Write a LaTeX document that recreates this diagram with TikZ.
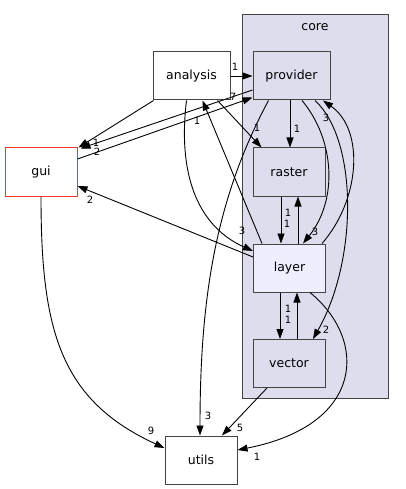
\documentclass[tikz,border=0pt]{standalone}
\usepackage{fontspec}
\setmainfont{DejaVu Sans}
\usetikzlibrary{arrows.meta,calc}
\definecolor{clusterfill}{HTML}{DDDDEE}
\definecolor{curfill}{HTML}{EEEEFF}
\definecolor{boxline}{HTML}{444444}
\definecolor{guired}{HTML}{FF3333}
\tikzset{
  dirbox/.style={draw=boxline, line width=1pt, minimum width=72pt, minimum height=48pt,
    inner sep=0pt, font=\fontsize{12.5}{14}\selectfont},
  subdir/.style={dirbox, fill=clusterfill},
  dep/.style={draw=black, line width=0.9pt, -{Triangle[length=10pt,width=7pt]}},
  lbl/.style={font=\fontsize{10}{11}\selectfont, inner sep=0pt, text=black}
}
\begin{document}
\begin{tikzpicture}[x=1pt,y=-1pt]
\useasboundingbox (0,0) rectangle (405,489);
\fill[white] (0,0) rectangle (405,489);

% the "core" cluster
\draw[boxline, line width=1pt, fill=clusterfill] (242,15) rectangle (388,398);
\node[font=\fontsize{12.5}{14}\selectfont] (corelabel) at (315,27) {core};

% directories
\node[dirbox, fill=white, minimum width=77pt] (analysis) at (191.5,76) {analysis};
\node[subdir, minimum width=77pt] (provider) at (291.5,76) {provider};
\node[dirbox, draw=guired, fill=white] (gui) at (41,172) {gui};
\node[subdir] (raster) at (289,172) {raster};
\node[dirbox, fill=curfill] (layer) at (289.5,268) {layer};
\node[subdir] (vector) at (289,363.5) {vector};
\node[dirbox, fill=white] (utils) at (201,460) {utils};

% dependencies
\draw[dep] (analysis.east) -- (provider.west);
\node[lbl] at (235,67) {1};

\draw[dep] ($(analysis.south west)+(1,0)$) -- ($(gui.north east)+(1,0)$);
\node[lbl] at (96,143) {1};

\draw[dep] ($(provider.west)+(0,14)$) -- ($(gui.north east)+(3,1)$);
\node[lbl] at (97,152) {2};

\draw[dep] ($(gui.east)+(0,-13)$) -- ($(provider.south west)+(0,-3)$);
\node[lbl] at (233,97) {7};

\draw[dep] ($(layer.north west)+(9,0)$) -- ($(analysis.south)+(11,0)$);
\node[lbl] at (197,121) {1};

\draw[dep] ($(analysis.south)+(26,0)$) -- ($(raster.north west)+(9,0)$);
\node[lbl] at (257,128) {1};

\draw[dep] ($(analysis.south)+(-5,0)$) .. controls (178,170) and (195,225) .. ($(layer.west)+(0,-17)$);
\node[lbl] at (242,231) {3};

\draw[dep] ($(layer.west)+(0,-11)$) -- ($(gui.east)+(0,14)$);
\node[lbl] at (90,200) {2};

\draw[dep] ($(provider.south)+(-23,0)$) .. controls (215,200) and (200,300) .. ($(utils.north)+(-1,0)$);
\node[lbl] at (208,416) {3};

\draw[dep] ($(provider.south)+(-1.5,0)$) -- ($(raster.north)+(1,0)$);
\node[lbl] at (297,129) {1};

\draw[dep] ($(provider.south)+(10.5,0)$) .. controls (335,140) and (338,200) .. ($(layer.north)+(13.5,0)$);
\node[lbl] at (315,232) {3};

\draw[dep] ($(layer.north)+(32.5,0)$) .. controls (360,200) and (365,130) .. ($(provider.south)+(31.5,0)$);
\node[lbl] at (326,118) {3};

\draw[dep] ($(provider.south)+(23.5,0)$) .. controls (358,140) and (358,260) .. ($(vector.north)+(24,0)$);
\node[lbl] at (326,330) {2};

\draw[dep] ($(raster.south)+(-8,0)$) -- ($(layer.north)+(-8.5,0)$);
\node[lbl] at (287,224) {1};

\draw[dep] ($(layer.north)+(8.5,0)$) -- ($(raster.south)+(9,0)$);
\node[lbl] at (288,213) {1};

\draw[dep] ($(layer.south)+(-9.5,0)$) -- ($(vector.north)+(-9,0)$);
\node[lbl] at (288,320) {1};

\draw[dep] ($(vector.north)+(8,0)$) -- ($(layer.south)+(7.5,0)$);
\node[lbl] at (288,309) {1};

\draw[dep] ($(layer.south)+(20.5,0)$) .. controls (368,340) and (365,425) .. ($(utils.east)+(0,-10)$);
\node[lbl] at (257,457) {1};

\draw[dep] ($(vector.south)+(-22,0)$) -- ($(utils.north)+(21,0)$);
\node[lbl] at (240,428) {5};

\draw[dep] (gui.south) .. controls (41,330) and (60,400) .. ($(utils.west)+(0,-12)$);
\node[lbl] at (151,431) {9};
\end{tikzpicture}
\end{document}
